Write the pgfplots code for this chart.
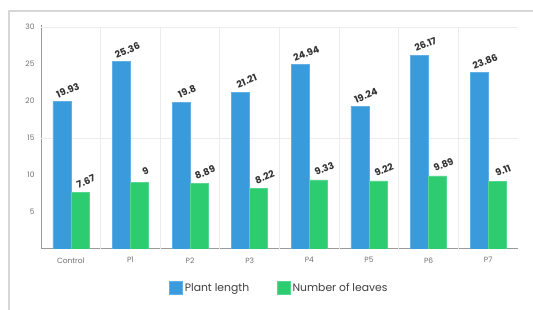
\documentclass[border=0pt]{standalone}
\usepackage{fontspec}
\setmainfont{Poppins}
\usepackage{pgfplots}
\pgfplotsset{compat=1.18}
\definecolor{blu}{HTML}{3A9BDC}
\definecolor{grn}{HTML}{2ECC71}
\definecolor{tickc}{HTML}{707070}
\definecolor{gridc}{HTML}{ECECEC}
\begin{document}
\begin{tikzpicture}
\useasboundingbox (0,0) rectangle (533pt,310pt);
\fill[white] (0,0) rectangle (533pt,310pt);
\draw[gridc!80!gray, line width=1.2pt] (9pt,-2pt) -- (9pt,299pt) -- (535pt,299pt);
\begin{axis}[
  at={(41pt,61pt)}, anchor=south west,
  scale only axis, width=477pt, height=222pt,
  ybar=0pt, bar width=18pt,
  xmin=-0.5, xmax=7.5, ymin=0, ymax=30,
  xtick={0,...,7},
  xticklabels={Control,P1,P2,P3,P4,P5,P6,P7},
  ytick={5,10,...,30},
  extra y ticks={15,30}, extra y tick labels={},
  extra y tick style={ymajorgrids=true, major tick length=0pt},
  extra x ticks={0.5,1.5,...,6.5}, extra x tick labels={},
  extra x tick style={xmajorgrids=true, major tick length=0pt},
  major grid style={gridc, line width=0.8pt},
  major tick length=0pt,
  axis x line*=bottom, axis y line*=left,
  axis line style={tickc!70, line width=1pt},
  x axis line style={-},
  y axis line style={-, shorten >=-2pt},
  tick label style={font=\fontsize{7.5}{9}\selectfont, text=tickc},
  yticklabel style={xshift=-3pt},
  xticklabel style={yshift=-5pt},
  /pgf/number format/assume math mode=true,
  nodes near coords,
  nodes near coords style={font=\bfseries\fontsize{9.5}{10}\selectfont, text=black!80, anchor=center, inner sep=0pt, xshift=6pt, yshift=11pt, rotate=22,
    /pgf/number format/fixed, /pgf/number format/precision=2},
  legend style={at={(0.5,-0.176)}, anchor=center, draw=none, legend columns=2,
    font=\fontsize{10.8}{12}\selectfont, text=black!75,
    /tikz/every even column/.append style={column sep=26pt}},
  legend image code/.code={\fill[#1] (0pt,-6.5pt) rectangle (13pt,6.5pt);},
]
\addplot[fill=blu, draw=blu!80!white] coordinates {(0,19.93) (1,25.36) (2,19.8) (3,21.21) (4,24.94) (5,19.24) (6,26.17) (7,23.86)};
\addplot[fill=grn, draw=grn!80!white] coordinates {(0,7.67) (1,9) (2,8.89) (3,8.22) (4,9.33) (5,9.22) (6,9.89) (7,9.11)};
\legend{Plant length, Number of leaves}
\end{axis}
\end{tikzpicture}
\end{document}
